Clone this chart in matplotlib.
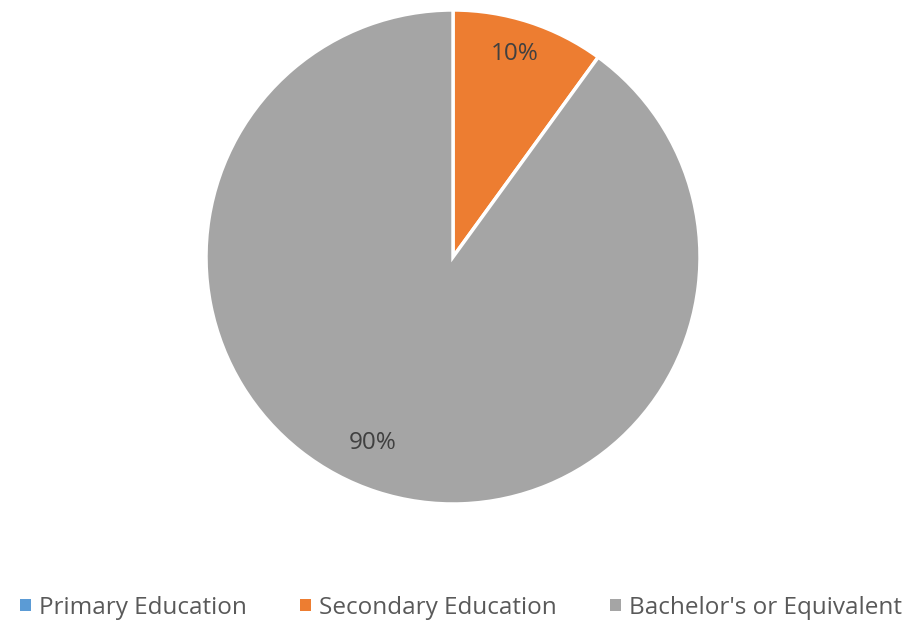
import matplotlib
matplotlib.use("Agg")
import matplotlib.pyplot as plt
from matplotlib.patches import Patch
import numpy as np

categories = ["Primary Education", "Secondary Education", "Bachelor's or Equivalent"]
values = [0, 10, 90]
colors = ["#5B9BD5", "#ED7D31", "#A5A5A5"]

plt.rcParams['font.family'] = ['Open Sans', 'DejaVu Sans']

fig = plt.figure(figsize=(9.15, 6.24), dpi=100)
ax = fig.add_axes([0.2251, 0.1923, 0.540, 0.7917])

def fmt(p):
    return f"{p:.0f}%" if p > 0.5 else ""

wedges, texts, autotexts = ax.pie(values, colors=colors, startangle=90, counterclock=False,
                                  autopct=fmt, pctdistance=0.84,
                                  wedgeprops=dict(edgecolor="white", linewidth=2.5),
                                  textprops=dict(color="#404040", fontsize=17.5))
ax.set_xlim(-1.0, 1.0)
ax.set_ylim(-1.0, 1.0)
ax.set_aspect('equal')

# Excel-like placement of the labels
ang = np.deg2rad(-113.5)
autotexts[2].set_position((0.82 * np.cos(ang), 0.82 * np.sin(ang)))
ang = np.deg2rad(73)
autotexts[1].set_position((0.86 * np.cos(ang), 0.86 * np.sin(ang)))

handles = [Patch(facecolor=c, edgecolor='none') for c in colors]
fig.legend(handles, categories, loc='center', bbox_to_anchor=(0.504, 0.026), ncol=3,
           frameon=False, fontsize=17.5, labelcolor="#595959",
           handlelength=0.42, handleheight=0.42, handletextpad=0.35, columnspacing=2.2)

fig.savefig("out.png", dpi=100)
